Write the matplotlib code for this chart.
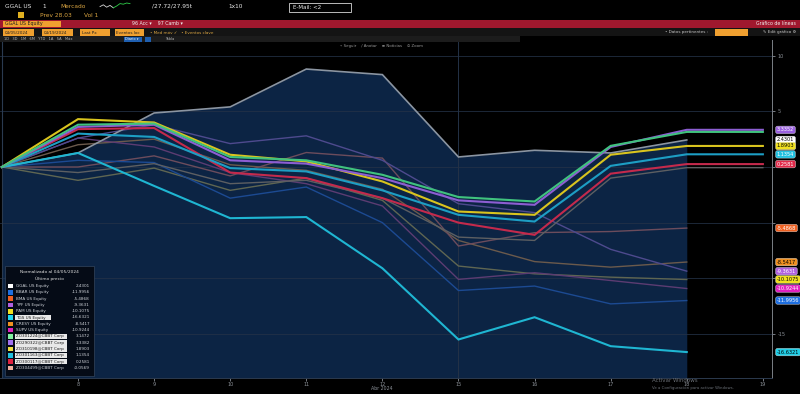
import numpy as np
import matplotlib
matplotlib.use("Agg")
import matplotlib.pyplot as plt
from matplotlib.patches import Rectangle
from matplotlib.lines import Line2D

# ---------------- data ----------------
dates = ["5", "8", "9", "10", "11", "12", "15", "16", "17", "18", "19"]
tick_labels = ["8", "9", "10", "11", "12", "15", "16", "17", "18", "19"]
nan = np.nan

ggal = [0, 1.26, 4.85, 5.4, 8.8, 8.3, 0.9, 1.5, 1.26, 2.43, nan]
bbar = [0, 0.6, 0.4, -2.8, -1.8, -5.0, -11.1, -10.7, -12.3, -12.0, nan]
bma = [0, 0.0, 1.0, -0.8, 1.3, 0.8, -7.1, -5.9, -5.8, -5.49, nan]
ypf = [0, 2.6, 3.8, 2.1, 2.8, 0.6, -3.3, -4.1, -7.4, -9.36, nan]
pam = [0, -1.2, -0.1, -2.1, -1.0, -3.0, -8.9, -9.6, -9.9, -10.11, nan]
tgs = [0, 1.26, -1.7, -4.6, -4.5, -9.1, -15.5, -13.5, -16.1, -16.63, nan]
cresy = [0, 2.0, 2.5, 0.2, -0.3, -2.0, -6.6, -8.5, -9.0, -8.54, nan]
supv = [0, 2.6, 1.8, -0.5, -1.5, -3.5, -10.1, -9.5, -10.2, -10.92, nan]
bond_green = [0, 3.8, 3.9, 0.9, 0.6, -0.7, -2.7, -3.1, 1.9, 3.15, 3.15]
bond_purple = [0, 3.6, 3.8, 0.6, 0.3, -1.0, -3.0, -3.4, 1.8, 3.34, 3.34]
bond_yellow = [0, 4.3, 4.0, 1.1, 0.5, -1.3, -4.0, -4.3, 1.1, 1.89, 1.89]
bond_cyan = [0, 3.0, 2.7, -0.1, -0.4, -2.1, -4.3, -4.9, 0.1, 1.14, 1.14]
bond_red = [0, 3.4, 3.5, -0.5, -1.0, -2.8, -5.0, -6.1, -0.6, 0.26, 0.26]
bond_peach = [0, -0.5, 0.3, -1.5, -1.2, -2.8, -6.3, -6.6, -1.0, -0.06, -0.06]

legend_names = ["GGAL US Equity", "BBAR US Equity", "BMA US Equity", "YPF US Equity",
                "PAM US Equity", "TGS US Equity", "CRESY US Equity", "SUPV US Equity",
                "ZO301224@CBBT Corp", "ZO290322@CBBT Corp", "ZO310198@CBBT Corp",
                "ZO301163@CBBT Corp", "ZO300117@CBBT Corp", "ZO304499@CBBT Corp"]
legend_values = ["2.4301", "-11.9956", "-5.4868", "-9.3631", "-10.1075", "-16.6321",
                 "-8.5417", "-10.9244", "3.1472", "3.3382", "1.8903", "1.1354",
                 "0.2581", "-0.0569"]
legend_colors = ["#ffffff", "#1f6fe0", "#f06020", "#b060e0", "#f0e020", "#20d8f0",
                 "#f09020", "#e020c0", "#80f0a0", "#a070f0", "#f0e040", "#20c0e0",
                 "#e02040", "#f0b0a0"]

tag_values = ["3.3352", "2.4301", "1.8903", "1.1354", "0.2581",
              "-5.4868", "-8.5417", "-9.3631", "-10.1075", "-10.9244", "-11.9956", "-16.6321"]
tag_levels = [3.3352, 2.4301, 1.8903, 1.1354, 0.2581,
              -5.4868, -8.5417, -9.3631, -10.1075, -10.9244, -11.9956, -16.6321]
tag_colors = ["#9a60e0", "#ffffff", "#f0e020", "#20c0e0", "#e02848",
              "#f06020", "#f09020", "#b060e0", "#f0e020", "#e020c0", "#1f6fe0", "#20d0e8"]
tag_text = ["white", "black", "black", "white", "white",
            "white", "black", "white", "black", "white", "white", "black"]

spark = [0.4, 0.7, 0.3, 0.6, 0.2, 0.5, 0.9, 0.8, 1.0, 0.9]

# ---------------- figure ----------------
W, H = 800, 394
fig = plt.figure(figsize=(8, 3.94), dpi=100, facecolor="black")

def fx(px):
    return px / W

def fy(py):
    return 1 - py / H

ax = fig.add_axes([0, fy(378), fx(772), (378 - 40) / H])
ax.set_facecolor("black")
x = np.arange(len(dates))
ymin, ymax = -18.96, 11.41
ax.set_xlim(-0.025, 10.12)
ax.set_ylim(ymin, ymax)

g = np.array(ggal, dtype=float)
ax.fill_between(x[:10], ymin, g[:10], color="#0c2444", zorder=1, lw=0)
for yv in [10, 5, 0, -5, -10, -15]:
    ax.axhline(yv, color="#243247", lw=0.7, zorder=1.5, alpha=0.8)
ax.axvline(6, color="#243247", lw=0.7, zorder=1.5)
ax.axvline(0.0, color="#2a3a50", lw=0.8, zorder=1.5)

series = [
    (pam, "#5f6652", 1.0), (cresy, "#6b5a4c", 1.0), (bma, "#6c4c5c", 1.0),
    (supv, "#5c3c72", 1.0), (ypf, "#4e4a8e", 1.0), (bbar, "#1c4a92", 1.0),
    (bond_peach, "#5d5f62", 1.0), (ggal, "#8b95a2", 1.2), (tgs, "#1fb6d2", 1.5),
    (bond_red, "#c42a4c", 1.5), (bond_cyan, "#1d9ec4", 1.5),
    (bond_yellow, "#d9c41e", 1.5), (bond_purple, "#8c5ed2", 1.5),
    (bond_green, "#40c27e", 1.5),
]
for vals, c, lw in series:
    ax.plot(x, vals, color=c, lw=lw, zorder=3, solid_joinstyle="miter")

ax.set_xticks(x[1:])
ax.set_xticklabels(tick_labels)
ax.tick_params(axis="x", colors="#8a8f96", labelsize=3.6, length=2, width=0.6, pad=1)
ax.yaxis.tick_right()
ax.set_yticks([10, 5, 0, -5, -10, -15])
ax.set_yticklabels(["10", "5", "", "", "", "-15"])
ax.tick_params(axis="y", colors="#8a8f96", labelsize=3.6, length=2, width=0.6, pad=2)
for s in ["top", "left"]:
    ax.spines[s].set_visible(False)
ax.spines["right"].set_color("#7a7f86")
ax.spines["right"].set_linewidth(0.7)
ax.spines["bottom"].set_color("#2c3a4e")
ax.spines["bottom"].set_linewidth(0.7)
fig.text(fx(382), fy(389), "Abr 2024", color="#8a8f96", fontsize=3.4, ha="center", va="center")

# value tags on the right
for val, lvl, c, tc in zip(tag_values, tag_levels, tag_colors, tag_text):
    ax.annotate(val, xy=(1.0, lvl), xycoords=("axes fraction", "data"),
                xytext=(3.5, 0), textcoords="offset points", fontsize=3.6, color=tc,
                va="center", ha="left", annotation_clip=False, zorder=10,
                bbox=dict(boxstyle="round,pad=0.25,rounding_size=0.4", fc=c, ec="#dddddd", lw=0.3))

# ---------------- legend box ----------------
lx0, ly0, lx1, ly1 = 5, 266, 94, 376
fig.add_artist(Rectangle((fx(lx0), fy(ly1)), fx(lx1 - lx0), (ly1 - ly0) / H,
                         transform=fig.transFigure, fc="#050b16", ec="#34465e", lw=0.5, zorder=20))
fig.text(fx(49), fy(272), "Normalizado al 04/05/2024", color="#e0e0e0", fontsize=3.2,
         ha="center", va="center", zorder=21)
fig.text(fx(49), fy(278.5), "Último precio", color="#e0e0e0", fontsize=3.2,
         ha="center", va="center", zorder=21)
row_h = 6.3
for i, (nm, vl, c) in enumerate(zip(legend_names, legend_values, legend_colors)):
    yc = 286 + i * row_h
    fig.add_artist(Rectangle((fx(8), fy(yc + 2.3)), fx(4.6), 4.6 / H, transform=fig.transFigure,
                             fc=c, ec="none", zorder=21))
    hl = (i == 5) or (8 <= i <= 12)
    if hl:
        fig.add_artist(Rectangle((fx(15), fy(yc + 2.8)), fx(36 if i == 5 else 52), 5.6 / H,
                                 transform=fig.transFigure, fc="#e8e8e8", ec="none", zorder=21))
    fig.text(fx(16), fy(yc), nm, color="#1a1a1a" if hl else "#d0d4da", fontsize=3.0,
             ha="left", va="center", zorder=22)
    fig.text(fx(90), fy(yc), vl, color="#d0d4da", fontsize=3.0, ha="right", va="center", zorder=22)

# ---------------- top toolbar ----------------
fig.text(fx(5), fy(6), "GGAL US", color="#e8e8e8", fontsize=4.2, va="center")
fig.text(fx(42), fy(6), "1", color="#e8e8e8", fontsize=4.2, va="center")
fig.text(fx(60), fy(6), "Mercado", color="#d9a441", fontsize=4.2, va="center")
sx = np.linspace(fx(100), fx(130), len(spark))
sy = fy(9) + np.array(spark) * (6 / H)
fig.add_artist(Line2D(sx[:5], sy[:5], color="#d8d8d8", lw=0.6, transform=fig.transFigure))
fig.add_artist(Line2D(sx[4:], sy[4:], color="#2fd04a", lw=0.6, transform=fig.transFigure))
fig.text(fx(152), fy(6), "/27.72/27.95t", color="#e8e8e8", fontsize=4.2, va="center")
fig.text(fx(228), fy(6), "1x10", color="#e8e8e8", fontsize=4.2, va="center")
fig.add_artist(Rectangle((fx(289), fy(12)), fx(62), 9 / H, transform=fig.transFigure,
                         fc="black", ec="#d8d8d8", lw=0.6))
fig.text(fx(293), fy(7.5), "E-Mail: <2", color="#e8e8e8", fontsize=4.0, va="center")
fig.add_artist(Rectangle((fx(18), fy(18)), fx(6), 6 / H, transform=fig.transFigure,
                         fc="#e0b020", ec="none"))
fig.text(fx(40), fy(15.5), "Prev 28.03", color="#d9a441", fontsize=4.2, va="center")
fig.text(fx(84), fy(15.5), "Vol 1", color="#d9a441", fontsize=4.2, va="center")

# red bar
fig.add_artist(Rectangle((0, fy(27.5)), 1, 7.5 / H, transform=fig.transFigure, fc="#a0182e", ec="none"))
fig.add_artist(Rectangle((fx(3), fy(27)), fx(58), 6.5 / H, transform=fig.transFigure, fc="#f0a030", ec="none"))
fig.text(fx(5), fy(23.7), "GGAL US Equity", color="#202020", fontsize=3.4, va="center")
fig.text(fx(132), fy(23.7), "96 Acc ▾    97 Camb ▾", color="#f0f0f0", fontsize=3.4, va="center")
fig.text(fx(796), fy(23.7), "Gráfico de líneas", color="#f0f0f0", fontsize=3.4, va="center", ha="right")

# settings row
fig.add_artist(Rectangle((0, fy(36)), 1, 7.5 / H, transform=fig.transFigure, fc="#141414", ec="none"))
boxes = [(3, 31, "04/05/2024"), (42, 31, "04/19/2024"), (80, 30, "Last Px"), (115, 29, "Eventos loc")]
for bx, bw, t in boxes:
    fig.add_artist(Rectangle((fx(bx), fy(35.5)), fx(bw), 6 / H, transform=fig.transFigure,
                             fc="#f0a030", ec="none"))
    fig.text(fx(bx + 1.5), fy(32.5), t, color="#202020", fontsize=3.0, va="center")
fig.text(fx(150), fy(32.5), "• Med móv ✓   • Eventos clave", color="#d9a441", fontsize=3.0, va="center")
fig.text(fx(665), fy(32.5), "• Datos pertinentes :", color="#c8c8c8", fontsize=3.0, va="center")
fig.add_artist(Rectangle((fx(715), fy(35.5)), fx(33), 6 / H, transform=fig.transFigure,
                         fc="#f0a030", ec="none"))
fig.text(fx(796), fy(32.5), "✎ Edit gráfico ⚙", color="#c8c8c8", fontsize=3.0, va="center", ha="right")

# period row
fig.add_artist(Rectangle((0, fy(42)), fx(520), 5.5 / H, transform=fig.transFigure, fc="#1c1c1c", ec="none"))
fig.text(fx(4), fy(39.3), "1D   3D   1M   6M   YTD   1A   5A   Máx", color="#b8b8b8", fontsize=2.6, va="center")
fig.add_artist(Rectangle((fx(124), fy(41.5)), fx(18), 4.5 / H, transform=fig.transFigure, fc="#1f5fb0", ec="none"))
fig.text(fx(125), fy(39.3), "Diario ▾", color="#ffffff", fontsize=2.5, va="center")
fig.add_artist(Rectangle((fx(145), fy(41.5)), fx(6), 4.5 / H, transform=fig.transFigure, fc="#1f5fb0", ec="none"))
fig.text(fx(165), fy(39.3), "Tabla", color="#b8b8b8", fontsize=2.6, va="center")
fig.text(fx(340), fy(46), "⌁ Seguir    ∕ Anotar    ≡ Noticias    ⊙ Zoom", color="#9a9a9a",
         fontsize=2.8, va="center", family=["DejaVu Sans"])

# watermark
fig.text(fx(652), fy(381), "Activar Windows", color="#6a6f76", fontsize=4.0, va="center")
fig.text(fx(652), fy(388), "Ve a Configuración para activar Windows.", color="#6a6f76", fontsize=2.8, va="center")

fig.savefig("out.png", dpi=100, facecolor="black")
